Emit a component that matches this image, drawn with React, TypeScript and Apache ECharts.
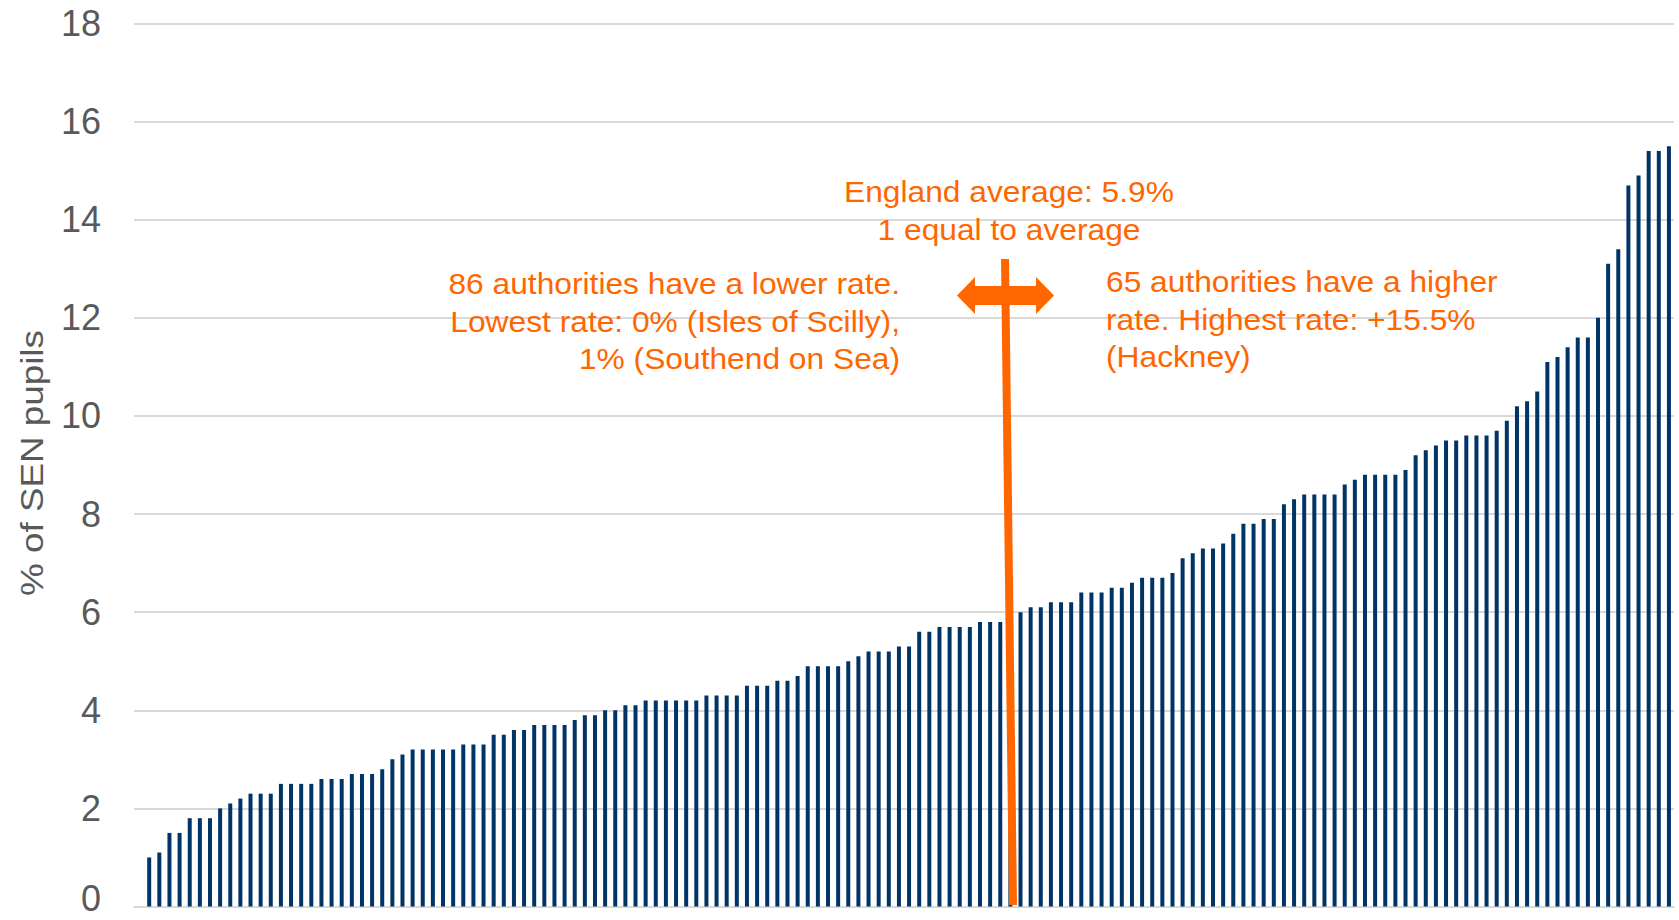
import React, { useEffect, useRef } from "react";
import * as echarts from "echarts";

// % of SEN pupils by local authority, sorted ascending
const lowerRates = [
  0, 1.0, 1.1, 1.5, 1.5, 1.8, 1.8, 1.8, 2.0, 2.1,
  2.2, 2.3, 2.3, 2.3, 2.5, 2.5, 2.5, 2.5, 2.6, 2.6,
  2.6, 2.7, 2.7, 2.7, 2.8, 3.0, 3.1, 3.2, 3.2, 3.2,
  3.2, 3.2, 3.3, 3.3, 3.3, 3.5, 3.5, 3.6, 3.6, 3.7,
  3.7, 3.7, 3.7, 3.8, 3.9, 3.9, 4.0, 4.0, 4.1, 4.1,
  4.2, 4.2, 4.2, 4.2, 4.2, 4.2, 4.3, 4.3, 4.3, 4.3,
  4.5, 4.5, 4.5, 4.6, 4.6, 4.7, 4.9, 4.9, 4.9, 4.9,
  5.0, 5.1, 5.2, 5.2, 5.2, 5.3, 5.3, 5.6, 5.6, 5.7,
  5.7, 5.7, 5.7, 5.8, 5.8, 5.8,
];
const averageRates = [5.9];
const higherRates = [
  6.0, 6.1, 6.1, 6.2, 6.2, 6.2, 6.4, 6.4, 6.4, 6.5,
  6.5, 6.6, 6.7, 6.7, 6.7, 6.8, 7.1, 7.2, 7.3, 7.3,
  7.4, 7.6, 7.8, 7.8, 7.9, 7.9, 8.2, 8.3, 8.4, 8.4,
  8.4, 8.4, 8.6, 8.7, 8.8, 8.8, 8.8, 8.8, 8.9, 9.2,
  9.3, 9.4, 9.5, 9.5, 9.6, 9.6, 9.6, 9.7, 9.9, 10.2,
  10.3, 10.5, 11.1, 11.2, 11.4, 11.6, 11.6, 12.0, 13.1, 13.4,
  14.7, 14.9, 15.4, 15.4, 15.5,
];
const senRates = [...lowerRates, ...averageRates, ...higherRates];
const authorities = senRates.map((_, i) => `LA ${i + 1}`);

const yAxisTitle = "% of SEN pupils";
const averageLines = ["England average: 5.9%", "1 equal to average"];
const lowerLines = [
  "86 authorities have a lower rate.",
  "Lowest rate: 0% (Isles of Scilly),",
  "1% (Southend on Sea)",
];
const higherLines = [
  "65 authorities have a higher",
  "rate. Highest rate: +15.5%",
  "(Hackney)",
];

const ORANGE = "#FF6600";
const FONT = "'Liberation Sans', Arial, sans-serif";

function txt(text: string, x: number, y: number, align: string) {
  return {
    type: "text",
    x,
    y,
    scaleX: 1.058,
    z: 100,
    style: {
      text,
      fill: ORANGE,
      fontSize: 30,
      fontFamily: FONT,
      align,
      verticalAlign: "middle",
      textAlign: align,
      textVerticalAlign: "middle",
    },
  };
}

export default function App() {
  const ref = useRef<HTMLDivElement>(null);
  useEffect(() => {
    if (!ref.current) return;
    const chart = echarts.init(ref.current, null, { renderer: "svg" });
    const lh = 37.8;
    const graphics: any[] = [];
    averageLines.forEach((t, i) => graphics.push(txt(t, 1009, 191.5 + i * 38, "center")));
    lowerLines.forEach((t, i) => graphics.push(txt(t, 900, 283.6 + i * lh, "right")));
    higherLines.forEach((t, i) => graphics.push(txt(t, 1106, 281.5 + i * lh, "left")));
    graphics.push({
      type: "line",
      z: 90,
      shape: { x1: 1005, y1: 259, x2: 1013, y2: 905 },
      style: { stroke: ORANGE, lineWidth: 8 },
    });
    graphics.push({
      type: "polygon",
      z: 91,
      shape: {
        points: [
          [957, 295.5], [975, 277], [975, 286], [1036, 286], [1036, 277],
          [1054, 295.5], [1036, 314], [1036, 305], [975, 305], [975, 314],
        ],
      },
      style: { fill: ORANGE },
    });
    graphics.push({
      type: "text",
      x: 32,
      y: 463,
      rotation: Math.PI / 2,
      scaleX: 1.15,
      style: {
        text: yAxisTitle,
        fill: "#595959",
        fontSize: 32,
        fontFamily: FONT,
        align: "center",
        verticalAlign: "middle",
        textAlign: "center",
        textVerticalAlign: "middle",
      },
    });

    chart.setOption({
      animation: false,
      grid: { left: 134, right: 5, top: 23.5, bottom: 13.5, containLabel: false },
      xAxis: {
        type: "category",
        data: authorities,
        axisLabel: { show: false },
        axisTick: { show: false },
        axisLine: { show: true, lineStyle: { color: "#d9d9d9", width: 2 } },
      },
      yAxis: {
        type: "value",
        min: 0,
        max: 18,
        interval: 2,
        axisLine: { show: false },
        axisTick: { show: false },
        axisLabel: {
          fontSize: 36,
          color: "#595959",
          fontFamily: FONT,
          margin: 33,
          formatter: (v: number) => (v === 0 ? "{z|0}" : String(v)),
          rich: {
            z: {
              fontSize: 36,
              color: "#595959",
              fontFamily: FONT,
              padding: [0, 0, 16, 0],
            },
          },
        },
        splitLine: { lineStyle: { color: "#d9d9d9", width: 2 } },
      },
      series: [
        {
          type: "bar",
          data: senRates,
          barWidth: 4,
          itemStyle: { color: "#003366" },
        },
      ],
      graphic: graphics,
    });
    return () => chart.dispose();
  }, []);
  return (
    <div
      ref={ref}
      style={{ position: "absolute", left: 0, top: 0, width: 1679, height: 920 }}
    />
  );
}
